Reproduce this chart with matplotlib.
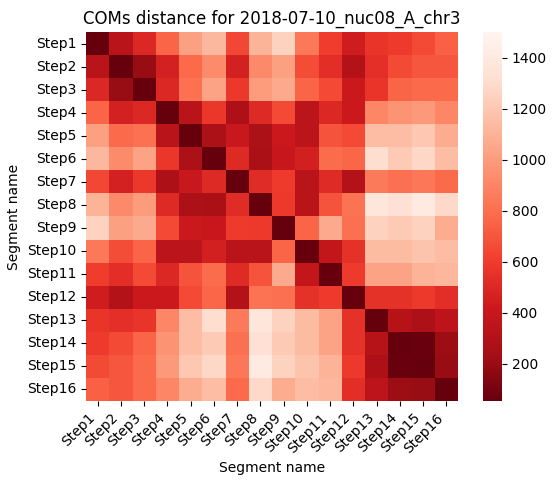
import numpy as np
import pandas as pd
import seaborn as sns
import matplotlib
matplotlib.use("Agg")
import matplotlib.pyplot as plt

title = "COMs distance for 2018-07-10_nuc08_A_chr3"
segments = ["Step%d" % i for i in range(1, 17)]

# pairwise COM distances (symmetric)
dist = [
    [55, 326, 500, 760, 1020, 1125, 645, 1110, 1250, 840, 597, 435, 560, 595, 655, 740],
    [326, 55, 200, 460, 780, 925, 460, 920, 1020, 660, 530, 300, 540, 655, 700, 700],
    [500, 200, 55, 500, 810, 1030, 585, 1000, 1060, 755, 650, 420, 565, 755, 778, 778],
    [760, 460, 500, 55, 326, 575, 280, 510, 650, 340, 500, 420, 905, 965, 990, 905],
    [1020, 780, 810, 326, 55, 270, 405, 270, 416, 340, 690, 650, 1150, 1150, 1200, 1075],
    [1125, 925, 1030, 575, 270, 55, 507, 265, 395, 455, 785, 765, 1305, 1210, 1275, 1150],
    [645, 460, 585, 280, 405, 507, 55, 520, 595, 330, 515, 305, 850, 805, 835, 778],
    [1110, 920, 1000, 510, 270, 265, 520, 55, 590, 326, 690, 820, 1370, 1330, 1400, 1280],
    [1250, 1020, 1060, 650, 416, 395, 595, 590, 55, 755, 1060, 805, 1250, 1210, 1250, 1075],
    [840, 660, 755, 340, 340, 455, 330, 326, 755, 55, 380, 550, 1140, 1140, 1180, 1150],
    [597, 530, 650, 500, 690, 785, 515, 690, 1060, 380, 55, 595, 1030, 1030, 1100, 1120],
    [435, 300, 420, 420, 650, 765, 305, 820, 805, 550, 595, 55, 550, 550, 590, 530],
    [560, 540, 565, 905, 1150, 1305, 850, 1370, 1250, 1140, 1030, 550, 55, 315, 280, 345],
    [595, 655, 755, 965, 1150, 1210, 805, 1330, 1210, 1140, 1030, 550, 315, 55, 65, 215],
    [655, 700, 778, 990, 1200, 1275, 835, 1400, 1250, 1180, 1100, 590, 280, 65, 55, 200],
    [740, 700, 778, 905, 1075, 1150, 778, 1280, 1075, 1150, 1120, 530, 345, 215, 200, 55],
]

df = pd.DataFrame(dist, index=segments, columns=segments)

fig = plt.figure(figsize=(5.56, 4.86), dpi=100)
ax = fig.add_axes([86 / 556, 85 / 486, 372 / 556, 369 / 486])
cax = fig.add_axes([483 / 556, 85 / 486, 19 / 556, 369 / 486])

sns.heatmap(df, cmap="Reds_r", vmin=55, vmax=1500, ax=ax, cbar_ax=cax)

ax.set_title(title, fontsize=12)
ax.set_xlabel("Segment name")
ax.set_ylabel("Segment name")
ax.set_xticklabels(segments, rotation=45, ha="right")
ax.set_yticklabels(segments, rotation=0)

fig.savefig("out.png", dpi=100)
